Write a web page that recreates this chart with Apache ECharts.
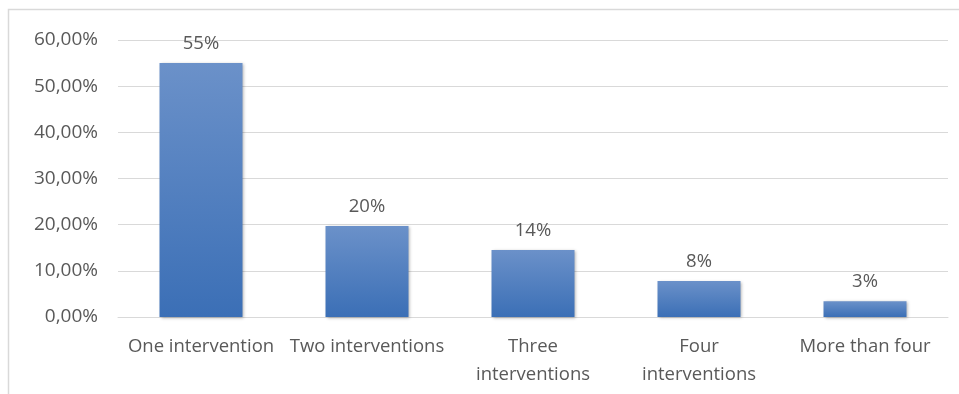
<!DOCTYPE html>
<html><head><meta charset="utf-8">
<script src="https://cdn.jsdelivr.net/npm/echarts@6/dist/echarts.min.js"></script>
<style>html,body{margin:0;padding:0;background:#fff}#c{width:959px;height:394px}</style>
</head><body><div id="c"></div>
<script>
var categories = ['One intervention', 'Two interventions', 'Three\ninterventions', 'Four\ninterventions', 'More than four'];
var values = [0.55, 0.197, 0.145, 0.078, 0.034];
var valueLabels = ['55%', '20%', '14%', '8%', '3%'];

var chart = echarts.init(document.getElementById('c'));
var font = 'Open Sans';
chart.setOption({
  animation: false,
  grid: {left: 118, right: 11, top: 40, bottom: 77},
  graphic: [{type: 'rect', shape: {x: 8.5, y: 9.5, width: 1200, height: 800}, style: {fill: 'none', stroke: '#d9d9d9', lineWidth: 1.5}, silent: true}],
  xAxis: {
    type: 'category', data: categories,
    axisLine: {lineStyle: {color: '#d9d9d9', width: 1}},
    axisTick: {show: false},
    axisLabel: {color: '#595959', fontSize: 18.5, fontFamily: font, margin: 16, lineHeight: 28, interval: 0}
  },
  yAxis: {
    type: 'value', min: 0, max: 0.6, interval: 0.1,
    axisLine: {show: false}, axisTick: {show: false},
    splitLine: {lineStyle: {color: '#d9d9d9', width: 1}},
    axisLabel: {color: '#595959', fontSize: 19, fontFamily: font, margin: 20,
      formatter: function (v) { return (v * 100).toFixed(2).replace('.', ',') + '%'; }}
  },
  series: [{
    type: 'bar', data: values, barWidth: '50%',
    itemStyle: {
      color: new echarts.graphic.LinearGradient(0, 0, 0, 1, [{offset: 0, color: '#6b91c9'}, {offset: 1, color: '#3b6fb6'}]),
      shadowColor: 'rgba(0,0,0,0.3)', shadowBlur: 3, shadowOffsetX: 1, shadowOffsetY: 1
    },
    label: {show: true, position: 'top', distance: 10, color: '#595959', fontSize: 18.5, fontFamily: font,
      formatter: function (p) { return valueLabels[p.dataIndex]; }}
  }]
});
</script></body></html>
